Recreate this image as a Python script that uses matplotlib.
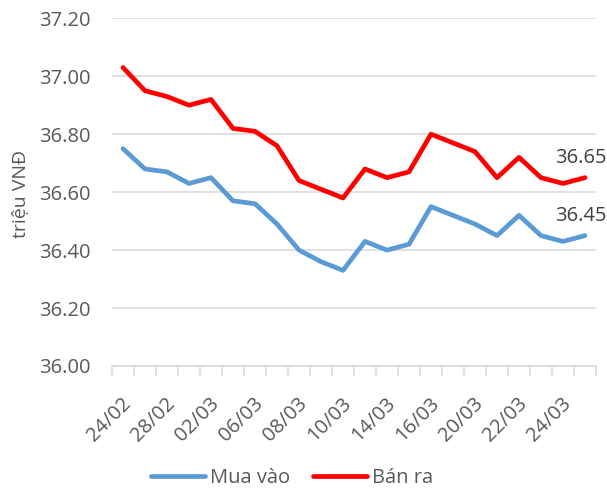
import matplotlib
matplotlib.use("Agg")
import matplotlib.pyplot as plt
from matplotlib.transforms import ScaledTranslation

dates = ["24/02", "", "28/02", "", "02/03", "", "06/03", "", "08/03", "", "10/03", "",
         "14/03", "", "16/03", "", "20/03", "", "22/03", "", "24/03", ""]
mua_vao = [36.75, 36.68, 36.67, 36.63, 36.65, 36.57, 36.56, 36.49, 36.40, 36.36, 36.33,
           36.43, 36.40, 36.42, 36.55, 36.52, 36.49, 36.45, 36.52, 36.45, 36.43, 36.45]
ban_ra = [37.03, 36.95, 36.93, 36.90, 36.92, 36.82, 36.81, 36.76, 36.64, 36.61, 36.58,
          36.68, 36.65, 36.67, 36.80, 36.77, 36.74, 36.65, 36.72, 36.65, 36.63, 36.65]
y_ticks = [36.00, 36.20, 36.40, 36.60, 36.80, 37.00, 37.20]

plt.rcParams['font.family'] = ['Open Sans', 'DejaVu Sans']
txt = '#595959'
fs = 14.5

fig = plt.figure(figsize=(6.07, 4.90), dpi=100)
ax = fig.add_axes([112/607, 1-366/490, (596-112)/607, (366-18.3)/490])

x = list(range(len(dates)))
ax.plot(x, mua_vao, color='#5B9BD5', lw=3.4, solid_capstyle='round', solid_joinstyle='round', label='Mua vào', zorder=3)
ax.plot(x, ban_ra, color='#FF0000', lw=3.4, solid_capstyle='round', solid_joinstyle='round', label='Bán ra', zorder=3)

ax.set_xlim(-0.5, len(dates) - 0.5)
ax.set_ylim(36.0, 37.2)
ax.set_yticks(y_ticks)
ax.set_yticklabels([f"{v:.2f}" for v in y_ticks], fontsize=fs, color=txt)
ax.yaxis.grid(True, color='#D9D9D9', lw=1.1)
ax.set_axisbelow(True)
ax.tick_params(axis='y', length=0, pad=15.5)

ax.set_xticks([i - 0.5 for i in range(len(dates) + 1)])
ax.set_xticklabels([])
ax.tick_params(axis='x', which='major', length=7, width=1.1, color='#D9D9D9', direction='out')
ax.set_xticks(x, minor=True)
ax.set_xticklabels(dates, minor=True, rotation=45, ha='right', rotation_mode='anchor',
                   fontsize=fs, color=txt)
ax.tick_params(axis='x', which='minor', length=0, pad=20)
for lab in ax.get_xticklabels(minor=True):
    lab.set_transform(lab.get_transform() + ScaledTranslation(-2/100, 0, fig.dpi_scale_trans))

for s in ['top', 'right', 'left']:
    ax.spines[s].set_visible(False)
ax.spines['bottom'].set_color('#D9D9D9')
ax.spines['bottom'].set_linewidth(1.1)

fig.text(20/607, 1-194/490, 'triệu VNĐ', rotation=90, ha='center', va='center',
         fontsize=14, color=txt)

ax.annotate(f"{ban_ra[-1]:.2f}", (x[-1], ban_ra[-1]), xytext=(-3, 14), textcoords='offset points',
            ha='center', va='center', fontsize=fs, color='#404040')
ax.annotate(f"{mua_vao[-1]:.2f}", (x[-1], mua_vao[-1]), xytext=(-3, 14), textcoords='offset points',
            ha='center', va='center', fontsize=fs, color='#404040')

fig.legend(loc='center', bbox_to_anchor=(0.481, 0.0245), ncol=2, frameon=False,
           fontsize=fs, labelcolor=txt, handlelength=2.7, handletextpad=0.25, columnspacing=1.1)

fig.savefig('out.png', dpi=100)
